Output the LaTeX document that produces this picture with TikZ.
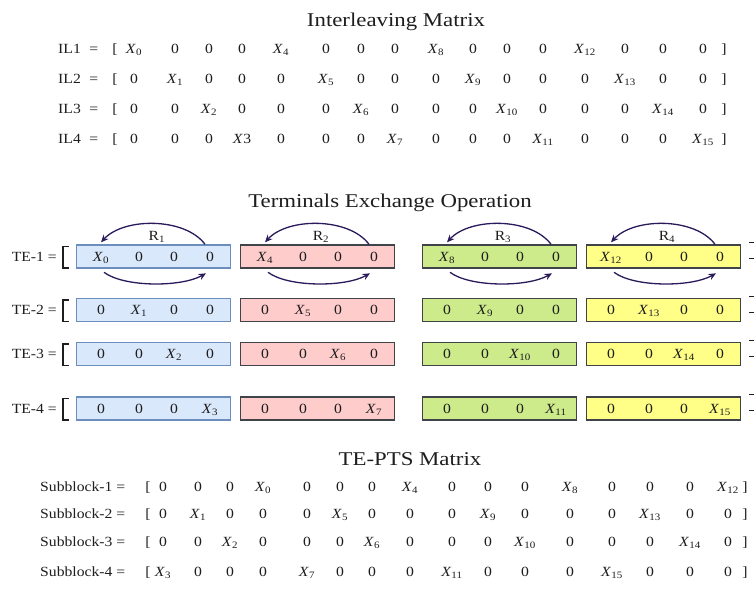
\documentclass[tikz,border=0pt]{standalone}
\usepackage{fontspec}
\setmainfont{Liberation Serif}
\usetikzlibrary{arrows.meta}

% entries of the form X_n
\newcommand{\X}[1]{\textit{X}\textsubscript{#1}}
\newcommand{\Xflat}[1]{\textit{X}\kern0.3pt#1}

\definecolor{textgray}{HTML}{1E1E1E}
\definecolor{blockblue}{HTML}{DAE8FC}
\definecolor{blockbluedraw}{HTML}{6C8EBF}
\definecolor{blockred}{HTML}{FFCCCC}
\definecolor{blockgreen}{HTML}{CDEB8B}
\definecolor{blockyellow}{HTML}{FFFF88}
\definecolor{blockdraw}{HTML}{404348}
\definecolor{swapcol}{HTML}{2B1B5C}

\tikzset{
  titletext/.style={inner sep=0pt, anchor=base, xscale=1.17, text=textgray,
    font=\fontsize{19.5}{22}\selectfont},
  ent/.style={inner sep=0pt, anchor=base, xscale=1.12, text=textgray,
    font=\fontsize{14}{16}\selectfont},
  lblleft/.style={ent, anchor=base west},
  lblright/.style={ent, anchor=base east},
  tebox/.style={rectangle, inner sep=0pt, minimum width=154pt,
    minimum height=23pt, line width=1.4pt},
  swaparrow/.style={draw=swapcol, line width=1.3pt,
    -{Stealth[length=7.5pt,width=6.5pt]}},
  bigbracket/.style={line width=1.3pt, draw=textgray},
}

\begin{document}
\begin{tikzpicture}[x=1pt,y=-1pt]
\useasboundingbox (0,0) rectangle (754,590);
\fill[white] (0,0) rectangle (754,590);

% ---------- section titles ----------
\node[titletext] (title-il)  at (396,26)  {Interleaving Matrix};
\node[titletext] (title-te)  at (390,207) {Terminals Exchange Operation};
\node[titletext] (title-pts) at (410,465) {TE-PTS Matrix};

% ---------- interleaving matrix ----------
\def\ilcols{{134,175,209,242,281,326,361,395,436,473,507,543,585,625,663,703}}
\foreach \r/\yb in {1/53,2/83,3/113,4/143} {
  \node[lblleft] (il-\r-name) at (58,\yb) {IL\r\kern0.5pt\ \ =};
  \node[ent] (il-\r-open)  at (115,\yb) {[};
  \node[ent] (il-\r-close) at (724,\yb) {]};
  \foreach \c in {1,...,16} {
    \pgfmathsetmacro{\xx}{\ilcols[\c-1]}
    \pgfmathtruncatemacro{\isx}{(mod(\c-1,4)==(\r-1)) ? 1 : 0}
    \pgfmathtruncatemacro{\sub}{\c-1}
    \ifnum\isx=1
      \ifnum\sub=3
        \node[ent] (il-\r-\c) at (\xx,\yb) {\Xflat{3}};
      \else
        \node[ent] (il-\r-\c) at (\xx,\yb) {\X{\sub}};
      \fi
    \else
      \node[ent] (il-\r-\c) at (\xx,\yb) {0};
    \fi
  }
}

% ---------- terminals exchange operation ----------
\def\teleft{{76,240,422,586}}
\def\teoff{{25,63,98,134}}
\foreach \r/\yc in {1/256.5,2/310,3/354,4/408.5} {
  \pgfmathsetmacro{\yb}{\yc+4.8}
  \pgfmathsetmacro{\ytop}{\yc-10}
  \pgfmathsetmacro{\ybot}{\yc+11.5}
  \node[lblright] (te-\r-name) at (57,\yb) {TE-\r\ =};
  % opening bracket of the row: heavy stem, thin serifs
  \draw[bigbracket] (68.5,\ytop) -- (62.5,\ytop) -- (62.5,\ybot) -- (68.5,\ybot);
  \fill[textgray] (61.5,\ytop) rectangle (64,\ybot);
  % closing bracket, mostly past the right edge
  \draw[line width=0.9pt, draw=textgray] (749,\yc-14) -- (758,\yc-14) -- (758,\yc+2) -- (749,\yc+2);
  \foreach \b/\fc/\dc in {1/blockblue/blockbluedraw, 2/blockred/blockdraw,
                          3/blockgreen/blockdraw, 4/blockyellow/blockdraw} {
    \pgfmathsetmacro{\lx}{\teleft[\b-1]}
    \node[tebox, fill=\fc, draw=\dc] (te-\r-\b) at (\lx+77.5,\yc) {};
    \foreach \k in {1,...,4} {
      \pgfmathsetmacro{\ex}{\lx+\teoff[\k-1]}
      \pgfmathtruncatemacro{\sub}{4*(\b-1)+\r-1}
      \ifnum\k=\r
        \node[ent] (te-\r-\b-\k) at (\ex,\yb) {\X{\sub}};
      \else
        \node[ent] (te-\r-\b-\k) at (\ex,\yb) {0};
      \fi
    }
  }
}

% rotations R1..R4 on the first terminal row
\foreach \b in {1,...,4} {
  \pgfmathsetmacro{\lx}{\teleft[\b-1]}
  \node[ent] (rot-\b) at (\lx+81,240) {R\textsubscript{\b}};
  \draw[swaparrow] ([shift={(-5,-17)}]te-1-\b-4.base)
    .. controls +(-20,-27) and +(23,-25) .. ([shift={(0,-19)}]te-1-\b-1.base);
  \draw[swaparrow] ([shift={(3,11)}]te-1-\b-1.base)
    .. controls +(20,15) and +(-25,14) .. ([shift={(-4,12)}]te-1-\b-4.base);
}

% ---------- TE-PTS matrix ----------
\def\sbcols{{163,198,230,263,307,340,372,410,452,488,525,570,612,650,690,728}}
\foreach \r/\yb/\p in {1/491.5/4,2/518.5/2,3/546.5/3,4/576/1} {
  \node[lblleft] (sb-\r-name) at (40,\yb) {Subblock-\r\ =};
  \node[ent] (sb-\r-open)  at (148,\yb) {[};
  \node[ent] (sb-\r-close) at (745,\yb) {]};
  \foreach \c in {1,...,16} {
    \pgfmathsetmacro{\xx}{\sbcols[\c-1]}
    \pgfmathtruncatemacro{\isx}{(mod(\c-1,4)==(\p-1)) ? 1 : 0}
    \pgfmathtruncatemacro{\sub}{4*floor((\c-1)/4)+\r-1}
    \ifnum\isx=1
      \node[ent] (sb-\r-\c) at (\xx,\yb) {\X{\sub}};
    \else
      \node[ent] (sb-\r-\c) at (\xx,\yb) {0};
    \fi
  }
}
\end{tikzpicture}
\end{document}
